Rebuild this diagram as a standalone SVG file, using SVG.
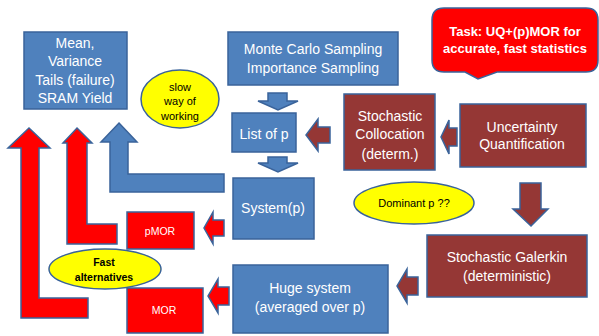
<svg xmlns="http://www.w3.org/2000/svg" width="599" height="336" viewBox="0 0 599 336">
<style>
text{font-family:"Liberation Sans",Arial,sans-serif;text-anchor:middle;dominant-baseline:central;}
.w{fill:#ffffff;font-size:14px;}
.k{fill:#000000;font-size:11px;}
.b{font-weight:bold;}
.blue{fill:#4F81BD;stroke:#3A639A;stroke-width:1.5;}
.dred{fill:#953735;stroke:#3A639A;stroke-width:1.5;}
.red{fill:#FF0000;stroke:#3A639A;stroke-width:1.5;}
.yel{fill:#FFFF00;stroke:#3A639A;stroke-width:1.5;}
</style>
<rect width="599" height="336" fill="#ffffff"/>
<g id="connectors">
<polygon class="red" points="29,128 50,148 39,148 39,298 88,298 88,318 21,318 21,148 8,148"/>
<polygon class="red" points="77,128 92,143 87,143 87,224 117,224 117,244 67,244 67,143 63,143"/>
<polygon class="blue" points="119,123 137,142 128,142 128,174 224,174 224,192 110,192 110,142 101,142"/>
<polygon class="blue" points="268,93 287,93 287,101 298,101 278,110 258,101 268,101"/>
<polygon class="blue" points="268,157 287,157 287,163 298,163 278,172 258,163 268,163"/>
<polygon class="dred" points="330,127 318,127 318,119 306,135 318,151 318,143 330,143"/>
<polygon class="dred" points="457,128 449,128 449,120 441,137 449,154 449,146 457,146"/>
<polygon class="dred" points="520,183 541,183 541,209 548,209 531,226 513,209 520,209"/>
<polygon class="dred" points="418,277 407,277 407,269 397,286 407,303 407,295 418,295"/>
<polygon class="red" points="224,220 213,220 213,212 204,228 213,244 213,236 224,236"/>
<polygon class="red" points="229,287 218,287 218,279 208,296 218,313 218,305 229,305"/>
</g>
<g id="stats">
<rect class="blue" x="24" y="32" width="103" height="77"/>
<text class="w" x="75" y="43">Mean,</text>
<text class="w" x="75" y="61">Variance</text>
<text class="w" x="75" y="80">Tails (failure)</text>
<text class="w" x="75" y="98">SRAM Yield</text>
</g>
<g id="montecarlo">
<rect class="blue" x="228" y="32" width="170" height="53"/>
<text class="w" x="313" y="49">Monte Carlo Sampling</text>
<text class="w" x="313" y="68">Importance Sampling</text>
</g>
<g id="task">
<path class="red" d="M444,8 H586 Q598,8 598,20 V60 Q598,72 586,72 H497 L478,79 L465,72 H444 Q432,72 432,60 V20 Q432,8 444,8 Z"/>
<text class="w b" x="515" y="31" style="font-size:13px">Task: UQ+(p)MOR for</text>
<text class="w b" x="515" y="48" style="font-size:13px">accurate, fast statistics</text>
</g>
<g id="slow">
<ellipse class="yel" cx="180" cy="99" rx="39" ry="29"/>
<text class="k" x="180" y="87">slow</text>
<text class="k" x="180" y="101">way of</text>
<text class="k" x="180" y="116">working</text>
</g>
<g id="listp">
<rect class="blue" x="232" y="113" width="64" height="39"/>
<text class="w" x="264" y="134">List of p</text>
</g>
<g id="collocation">
<rect class="dred" x="344" y="94" width="91" height="76"/>
<text class="w" x="390" y="116">Stochastic</text>
<text class="w" x="390" y="134">Collocation</text>
<text class="w" x="390" y="154">(determ.)</text>
</g>
<g id="uq">
<rect class="dred" x="460" y="104" width="126" height="63"/>
<text class="w" x="522" y="127">Uncertainty</text>
<text class="w" x="522" y="144">Quantification</text>
</g>
<g id="system">
<rect class="blue" x="233" y="178" width="81" height="61"/>
<text class="w" x="273" y="208">System(p)</text>
</g>
<g id="dominant">
<ellipse class="yel" cx="414" cy="203" rx="60" ry="21"/>
<text class="k" x="414" y="203">Dominant p ??</text>
</g>
<g id="galerkin">
<rect class="dred" x="427" y="235" width="160" height="62"/>
<text class="w" x="507" y="257">Stochastic Galerkin</text>
<text class="w" x="507" y="276">(deterministic)</text>
</g>
<g id="huge">
<rect class="blue" x="233" y="265" width="155" height="68"/>
<text class="w" x="310" y="288">Huge system</text>
<text class="w" x="310" y="307">(averaged over p)</text>
</g>
<g id="pmor">
<rect class="red" x="127" y="212" width="67" height="37"/>
<text class="w" x="160" y="231" style="font-size:10.5px">pMOR</text>
</g>
<g id="mor">
<rect class="red" x="127" y="288" width="76" height="45"/>
<text class="w" x="164" y="310" style="font-size:10.5px">MOR</text>
</g>
<g id="fast">
<ellipse class="yel" cx="105" cy="269" rx="56" ry="20"/>
<text class="k b" x="104" y="262" style="font-size:10.5px">Fast</text>
<text class="k b" x="104" y="277" style="font-size:10.5px">alternatives</text>
</g>
</svg>
